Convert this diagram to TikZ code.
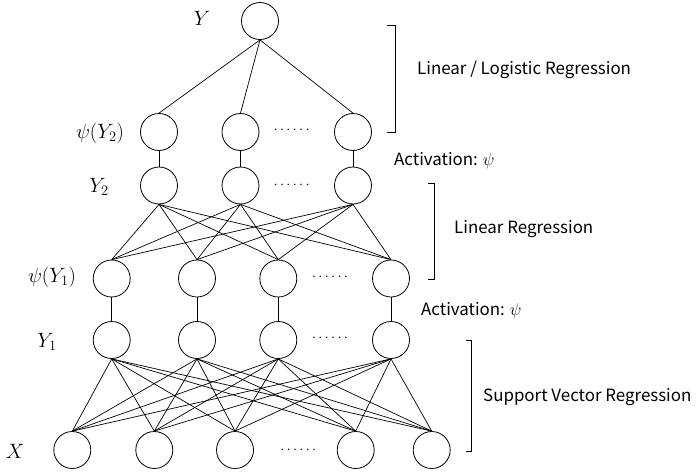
\documentclass[tikz,border=0pt]{standalone}
\usepackage{fontspec}
\setmainfont{Noto Sans CJK SC}
\begin{document}
\begin{tikzpicture}[x=1pt,y=-1pt,
  neuron/.style={circle,draw,line width=0.8pt,minimum size=37pt,inner sep=0pt},
  link/.style={line width=0.7pt},
  lbl/.style={inner sep=0pt,font=\fontsize{19.5}{19.5}\selectfont},
  txt/.style={inner sep=0pt,anchor=west,font=\fontsize{16.9}{18}\selectfont},
  dotsnode/.style={inner sep=0pt,font=\fontsize{15}{15}\selectfont},
  brk/.style={line width=0.8pt}]
\useasboundingbox (0,0) rectangle (697,474);
% top
\node[neuron] (Y) at (260,21) {};
\foreach \i/\x in {1/159,2/240.5,3/353}{
  \node[neuron] (P2\i) at (\x,132) {};
  \node[neuron] (Y2\i) at (\x,185.5) {};
  \draw[link] (Y.south) -- (P2\i.north);
  \draw[link] (P2\i.south) -- (Y2\i.north);
}
\foreach \i/\x in {1/111.7,2/197,3/278.3,4/391}{
  \node[neuron] (P1\i) at (\x,278.5) {};
  \node[neuron] (Y1\i) at (\x,340) {};
  \draw[link] (P1\i.south) -- (Y1\i.north);
}
\foreach \i/\x in {1/72.3,2/154.3,3/235,4/355.7,5/431.7}{
  \node[neuron] (X\i) at (\x,450) {};
}
\foreach \a in {1,2,3}{
  \foreach \b in {1,2,3,4}{
    \draw[link] (Y2\a.south) -- (P1\b.north);
  }
}
\foreach \a in {1,2,3,4}{
  \foreach \b in {1,2,3,4,5}{
    \draw[link] (Y1\a.south) -- (X\b.north);
  }
}
% dots
\node[dotsnode] (d1) at (291.7,130) {$\cdots\cdots$};
\node[dotsnode] (d2) at (291.7,185) {$\cdots\cdots$};
\node[dotsnode] (d3) at (330,277) {$\cdots\cdots$};
\node[dotsnode] (d4) at (330,338) {$\cdots\cdots$};
\node[dotsnode] (d5) at (298.3,450) {$\cdots\cdots$};
% layer labels
\node[lbl] (lY) at (202,18) {$Y$};
\node[lbl] (lP2) at (100,133) {$\psi(Y_2)$};
\node[lbl] (lY2) at (99,187) {$Y_2$};
\node[lbl] (lP1) at (52,277) {$\psi(Y_1)$};
\node[lbl] (lY1) at (47,342) {$Y_1$};
\node[lbl] (lX) at (15,451) {$X$};
% brackets
\draw[brk] (387,25) -- (395,25) -- (395,132.7) -- (387,132.7);
\draw[brk] (428,183) -- (434,183) -- (434,279.3) -- (428,279.3);
\draw[brk] (466,340) -- (471,340) -- (471,451) -- (466,451);
% texts
\node[txt] (t1) at (417,70) {Linear / Logistic Regression};
\node[txt] (t2) at (394,161) {Activation: $\psi$};
\node[txt] (t3) at (454,229) {Linear Regression};
\node[txt] (t4) at (421,311) {Activation: $\psi$};
\node[txt] (t5) at (483,397) {Support Vector Regression};
\end{tikzpicture}
\end{document}
